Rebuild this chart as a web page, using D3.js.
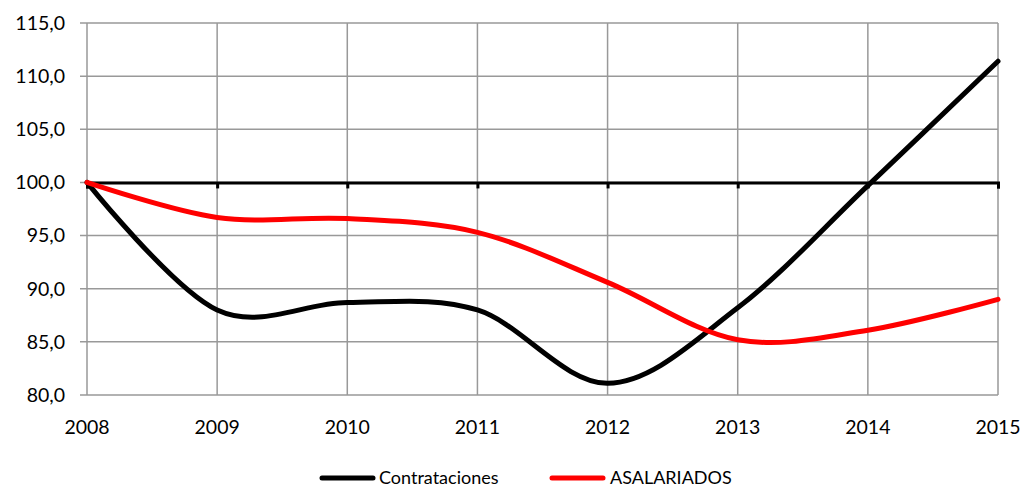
<!DOCTYPE html>
<html><head><meta charset="utf-8">
<script src="https://cdn.jsdelivr.net/npm/d3@7"></script>
<style>body{margin:0;background:#fff}svg{display:block}text{font-family:Lato,"Open Sans",sans-serif;fill:#000}</style>
</head><body><svg id="c" width="1024" height="487"></svg>
<script>
const years = [2008, 2009, 2010, 2011, 2012, 2013, 2014, 2015];
const contrataciones = [100.0, 88.0, 88.7, 88.0, 81.1, 88.2, 99.7, 111.4];
const asalariados = [100.0, 96.7, 96.6, 95.3, 90.6, 85.2, 86.1, 89.0];
const yTicks = [80, 85, 90, 95, 100, 105, 110, 115];
const seriesNames = ["Contrataciones", "ASALARIADOS"];
const seriesColors = ["#000000", "#ff0000"];

const svg = d3.select("#c");
const x = d3.scaleLinear().domain([2008, 2015]).range([87, 998]);
const y = d3.scaleLinear().domain([80, 115]).range([395, 23]);
const fmt = v => d3.format(".1f")(v).replace(".", ",");

svg.append("g").selectAll("line").data(yTicks).join("line")
  .attr("x1", 80).attr("x2", x(2015)).attr("y1", d => y(d)).attr("y2", d => y(d))
  .attr("stroke", "#999").attr("stroke-width", 1.5);
svg.append("g").selectAll("line").data(years).join("line")
  .attr("x1", d => x(d)).attr("x2", d => x(d)).attr("y1", y(115)).attr("y2", y(80))
  .attr("stroke", "#999").attr("stroke-width", 1.5);

svg.append("g").selectAll("text").data(yTicks).join("text")
  .attr("x", 65).attr("y", d => y(d)).attr("dy", "0.35em").attr("text-anchor", "end")
  .attr("font-size", 19.5).text(fmt);
svg.append("g").selectAll("text").data(years).join("text")
  .attr("x", d => x(d)).attr("y", 434).attr("text-anchor", "middle")
  .attr("font-size", 19.5).text(d => d);

const ax = svg.append("g").attr("transform", `translate(0,${y(100)})`)
  .call(d3.axisBottom(x).tickValues(years).tickSize(6).tickFormat(""));
ax.select(".domain").attr("stroke", "#000").attr("stroke-width", 3);
ax.selectAll(".tick line").attr("stroke", "#000").attr("stroke-width", 3);

const line = d3.line().x((d, i) => x(years[i])).y(d => y(d)).curve(d3.curveCardinal.tension(0));
[contrataciones, asalariados].forEach((s, i) => {
  svg.append("path").attr("d", line(s)).attr("fill", "none")
    .attr("stroke", seriesColors[i]).attr("stroke-width", 5).attr("stroke-linecap", "round");
});

const leg = [{x1: 322, tx: 379}, {x1: 552, tx: 610}];
seriesNames.forEach((n, i) => {
  svg.append("line").attr("x1", leg[i].x1).attr("x2", leg[i].x1 + 51).attr("y1", 478).attr("y2", 478)
    .attr("stroke", seriesColors[i]).attr("stroke-width", 5).attr("stroke-linecap", "round");
  svg.append("text").attr("x", leg[i].tx).attr("y", 478).attr("dy", "0.35em")
    .attr("font-size", 18).text(n);
});
</script></body></html>
